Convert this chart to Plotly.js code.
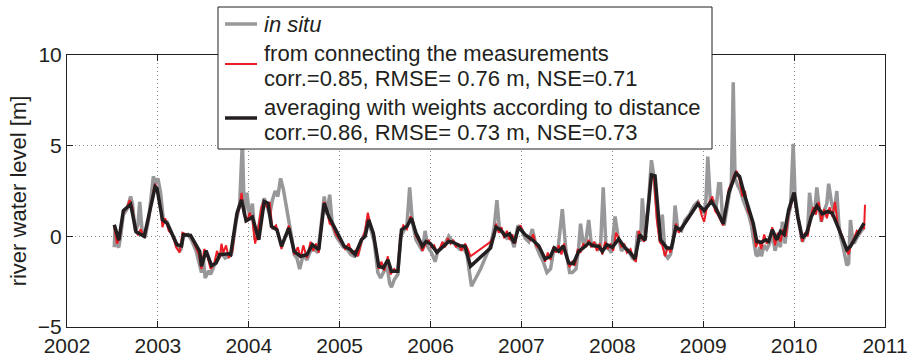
<!DOCTYPE html>
<html>
<head>
<meta charset="utf-8">
<script src="https://cdn.plot.ly/plotly-3.0.1.min.js"></script>
<style>
  html, body { margin: 0; padding: 0; background: #ffffff; }
  #chart { width: 912px; height: 356px; }
</style>
</head>
<body>
<div id="chart"></div>
<script>
// River water level time series (decimal years, metres)

// in situ gauge record
const inSituYears = [
  2002.52, 2002.53, 2002.55, 2002.57, 2002.59, 2002.62, 2002.66, 2002.70, 2002.72, 2002.75,
  2002.78, 2002.80, 2002.83, 2002.86, 2002.90, 2002.95, 2002.98, 2003.00, 2003.03, 2003.06,
  2003.10, 2003.14, 2003.18, 2003.22, 2003.25, 2003.28, 2003.33, 2003.37, 2003.42, 2003.46,
  2003.48, 2003.50, 2003.52, 2003.56, 2003.58, 2003.62, 2003.66, 2003.70, 2003.74, 2003.78,
  2003.81, 2003.86, 2003.90, 2003.93, 2003.95, 2003.98, 2004.01, 2004.04, 2004.07, 2004.10,
  2004.14, 2004.17, 2004.20, 2004.23, 2004.26, 2004.29, 2004.32, 2004.35, 2004.38, 2004.41,
  2004.44, 2004.47, 2004.50, 2004.53, 2004.56, 2004.60, 2004.64, 2004.68, 2004.72, 2004.76,
  2004.80, 2004.83, 2004.86, 2004.89, 2004.92, 2004.96, 2005.00, 2005.04, 2005.08, 2005.12,
  2005.16, 2005.20, 2005.24, 2005.28, 2005.31, 2005.34, 2005.38, 2005.42, 2005.45, 2005.48,
  2005.52, 2005.55, 2005.57, 2005.60, 2005.64, 2005.67, 2005.71, 2005.74, 2005.77, 2005.80,
  2005.84, 2005.88, 2005.91, 2005.94, 2005.97, 2006.01, 2006.05, 2006.08, 2006.12, 2006.16,
  2006.20, 2006.24, 2006.28, 2006.32, 2006.36, 2006.40, 2006.45, 2006.55, 2006.66, 2006.70,
  2006.73, 2006.76, 2006.80, 2006.84, 2006.88, 2006.92, 2006.96, 2007.00, 2007.04, 2007.08,
  2007.12, 2007.16, 2007.20, 2007.24, 2007.28, 2007.32, 2007.36, 2007.40, 2007.45, 2007.49,
  2007.53, 2007.56, 2007.60, 2007.63, 2007.65, 2007.68, 2007.71, 2007.74, 2007.77, 2007.81,
  2007.85, 2007.87, 2007.90, 2007.93, 2007.96, 2007.99, 2008.03, 2008.06, 2008.10, 2008.14,
  2008.18, 2008.22, 2008.25, 2008.28, 2008.31, 2008.33, 2008.36, 2008.40, 2008.43, 2008.46,
  2008.50, 2008.53, 2008.55, 2008.58, 2008.61, 2008.64, 2008.67, 2008.69, 2008.72, 2008.76,
  2008.80, 2008.85, 2008.90, 2008.94, 2008.98, 2009.01, 2009.03, 2009.05, 2009.08, 2009.11,
  2009.14, 2009.17, 2009.19, 2009.21, 2009.23, 2009.26, 2009.29, 2009.31, 2009.33, 2009.35,
  2009.38, 2009.41, 2009.44, 2009.47, 2009.50, 2009.53, 2009.56, 2009.58, 2009.60, 2009.62,
  2009.64, 2009.67, 2009.70, 2009.73, 2009.76, 2009.79, 2009.82, 2009.85, 2009.87, 2009.90,
  2009.94, 2009.96, 2009.99, 2010.01, 2010.04, 2010.07, 2010.09, 2010.12, 2010.15, 2010.17,
  2010.20, 2010.23, 2010.25, 2010.28, 2010.30, 2010.33, 2010.36, 2010.38, 2010.41, 2010.44,
  2010.47, 2010.49, 2010.51, 2010.54, 2010.56, 2010.58, 2010.60, 2010.62, 2010.64, 2010.66,
  2010.70, 2010.74, 2010.77
];
const inSituLevels = [
  -0.60, 0.50, -0.50, -0.60, 0.00, 1.20, 1.50, 2.20, 1.80, 0.30,
  0.60, 1.90, 0.10, -0.05, 1.00, 3.30, 2.90, 3.20, 2.40, 0.90,
  0.80, 0.30, -0.10, -0.60, -0.80, 0.00, 0.10, -0.20, -0.80, -1.50,
  -2.00, -1.20, -2.30, -1.90, -2.10, -1.60, -1.30, -0.90, -1.20, -1.10,
  -1.00, 0.80, 1.80, 5.30, 1.20, 2.40, 1.00, 1.80, -0.20, 0.20,
  1.50, 2.10, 1.70, 1.20, 2.00, 2.50, 2.20, 3.20, 2.60, 1.80,
  1.00, 0.00, -1.00, -1.20, -1.80, -1.00, -1.30, -0.80, -0.70, -0.90,
  0.80, 2.20, 1.20, 2.30, 0.60, 0.00, -0.30, -0.60, -0.70, -1.00,
  -1.10, -1.00, -0.20, 0.20, 1.00, 0.40, -0.30, -2.00, -2.30, -2.00,
  -1.60, -2.60, -2.80, -2.40, -2.10, 0.00, 0.40, 0.60, 2.70, 0.80,
  -0.20, -0.50, -0.80, 0.30, -0.60, -0.90, -1.40, -0.80, -0.60, -0.40,
  0.00, -0.30, -0.50, -0.70, -0.60, -1.00, -2.75, -1.80, -0.50, 0.50,
  2.00, 0.30, 0.20, -0.10, 0.00, -0.60, 0.60, 0.40, -0.10, -0.30,
  0.40, -0.50, -1.00, -1.40, -2.00, -1.80, -0.60, -0.80, 1.50, -0.80,
  -2.00, -2.00, -1.80, -0.60, 0.70, -0.40, -0.20, 0.90, -0.50, -0.40,
  -0.70, -0.60, 2.70, -0.60, -0.70, -0.90, 1.10, 0.10, -0.80, -0.60,
  -0.80, -1.20, -1.30, 0.30, -0.30, 2.10, 0.00, 2.00, 4.20, 3.20,
  0.80, -0.20, 1.20, -1.00, -1.20, -1.00, -0.20, 1.70, 0.40, 0.30,
  0.90, 1.20, 1.70, 1.90, 1.40, 1.30, 2.00, 4.40, 1.80, 2.00,
  1.50, 2.90, 2.90, 1.20, 0.60, 1.60, 2.40, 3.00, 8.50, 3.20,
  2.80, 2.50, 2.00, 1.60, 1.20, 0.60, -0.40, -1.00, -1.10, -0.60,
  -1.10, -0.50, -0.70, -0.40, 0.20, -0.80, -0.20, -0.60, 0.80, -0.40,
  1.20, 1.60, 5.10, 2.30, 1.10, 0.30, -0.30, 0.00, 0.40, 2.40,
  1.20, 1.60, 2.70, 1.40, 0.80, 1.40, 1.80, 2.90, 1.90, 1.30,
  2.50, 0.80, 0.00, -0.60, -1.20, -1.60, -1.50, 0.90, 0.00, -0.40,
  0.00, 0.30, 0.50
];

// levels from connecting the measurements
const connectYears = [
  2002.52, 2002.55, 2002.58, 2002.62, 2002.66, 2002.69, 2002.72, 2002.75, 2002.78, 2002.81,
  2002.85, 2002.90, 2002.95, 2002.97, 2003.00, 2003.03, 2003.05, 2003.08, 2003.12, 2003.16,
  2003.20, 2003.24, 2003.27, 2003.32, 2003.36, 2003.40, 2003.45, 2003.48, 2003.51, 2003.54,
  2003.58, 2003.62, 2003.65, 2003.68, 2003.70, 2003.72, 2003.75, 2003.78, 2003.82, 2003.86,
  2003.90, 2003.92, 2003.95, 2003.98, 2004.01, 2004.04, 2004.07, 2004.10, 2004.14, 2004.17,
  2004.20, 2004.23, 2004.26, 2004.30, 2004.33, 2004.36, 2004.40, 2004.44, 2004.47, 2004.50,
  2004.54, 2004.57, 2004.60, 2004.64, 2004.68, 2004.71, 2004.74, 2004.77, 2004.80, 2004.83,
  2004.86, 2004.89, 2004.92, 2004.96, 2005.00, 2005.03, 2005.06, 2005.10, 2005.13, 2005.17,
  2005.20, 2005.24, 2005.28, 2005.31, 2005.34, 2005.37, 2005.40, 2005.43, 2005.46, 2005.49,
  2005.53, 2005.56, 2005.60, 2005.64, 2005.67, 2005.70, 2005.74, 2005.78, 2005.81, 2005.84,
  2005.88, 2005.91, 2005.95, 2005.98, 2006.01, 2006.04, 2006.07, 2006.10, 2006.13, 2006.16,
  2006.19, 2006.22, 2006.25, 2006.28, 2006.31, 2006.34, 2006.38, 2006.41, 2006.44, 2006.66,
  2006.70, 2006.72, 2006.75, 2006.78, 2006.81, 2006.84, 2006.87, 2006.90, 2006.93, 2006.96,
  2006.99, 2007.02, 2007.06, 2007.10, 2007.13, 2007.16, 2007.20, 2007.23, 2007.26, 2007.29,
  2007.32, 2007.35, 2007.38, 2007.41, 2007.44, 2007.47, 2007.50, 2007.53, 2007.56, 2007.59,
  2007.62, 2007.65, 2007.68, 2007.71, 2007.74, 2007.77, 2007.80, 2007.83, 2007.86, 2007.89,
  2007.92, 2007.95, 2007.98, 2008.01, 2008.04, 2008.07, 2008.10, 2008.13, 2008.16, 2008.20,
  2008.23, 2008.26, 2008.29, 2008.32, 2008.35, 2008.39, 2008.43, 2008.46, 2008.49, 2008.52,
  2008.55, 2008.58, 2008.61, 2008.64, 2008.67, 2008.70, 2008.73, 2008.76, 2008.80, 2008.84,
  2008.88, 2008.92, 2008.95, 2008.98, 2009.01, 2009.04, 2009.07, 2009.10, 2009.13, 2009.16,
  2009.19, 2009.22, 2009.25, 2009.28, 2009.31, 2009.34, 2009.37, 2009.40, 2009.43, 2009.46,
  2009.49, 2009.52, 2009.55, 2009.58, 2009.61, 2009.64, 2009.67, 2009.70, 2009.73, 2009.76,
  2009.79, 2009.82, 2009.85, 2009.88, 2009.91, 2009.94, 2009.97, 2010.00, 2010.03, 2010.06,
  2010.09, 2010.12, 2010.15, 2010.18, 2010.21, 2010.24, 2010.27, 2010.30, 2010.33, 2010.36,
  2010.39, 2010.42, 2010.45, 2010.48, 2010.51, 2010.54, 2010.57, 2010.60, 2010.63, 2010.66,
  2010.69, 2010.72, 2010.75, 2010.77, 2010.78
];
const connectLevels = [
  0.50, -0.40, -0.10, 1.30, 1.60, 2.00, 1.60, 0.30, 0.10, 0.40,
  -0.05, 1.00, 2.50, 2.90, 2.40, 1.60, 0.50, 1.00, 0.30, 0.10,
  -0.60, -0.90, 0.20, 0.10, 0.00, -0.40, -1.00, -1.80, -0.70, -1.00,
  -1.80, -1.50, -0.80, -1.20, -0.40, -0.90, -0.50, -1.20, -0.80, 1.00,
  1.60, 2.40, 1.20, 0.80, 1.30, 0.90, -0.40, 0.30, 1.60, 2.00,
  1.60, 1.90, 0.40, 0.60, 0.10, -0.70, 0.00, 0.60, -0.20, -1.00,
  -0.60, -1.20, -0.50, -1.20, -0.30, -0.80, -0.40, -0.90, 0.80, 1.90,
  1.40, 0.70, 0.60, 0.10, -0.20, -0.40, -0.70, -0.40, -0.90, -0.80,
  -1.10, -0.30, 0.30, 1.30, 0.60, 0.10, -0.60, -1.80, -1.40, -1.90,
  -1.10, -2.10, -1.80, -2.00, 0.10, 0.60, 0.40, 1.10, 0.80, 0.00,
  -0.30, -0.80, -0.40, -0.20, -0.60, -0.50, -0.90, -0.70, -0.30, -0.60,
  -0.10, -0.40, -0.20, -0.60, -0.40, -0.80, -0.40, -0.70, -1.10, -0.30,
  0.10, 0.70, 0.20, 0.50, -0.10, 0.30, -0.20, 0.10, -0.40, 0.40,
  0.60, 0.20, 0.00, -0.20, 0.10, -0.50, -0.70, -0.90, -1.40, -0.90,
  -1.30, -0.60, -0.90, -0.50, -1.00, -0.40, -1.20, -1.70, -1.40, -1.60,
  -0.70, -0.90, -0.40, -0.60, -0.20, -0.60, -0.30, -0.80, -0.40, -1.00,
  -0.30, -0.70, -0.40, -0.80, 0.20, -0.10, -0.60, -0.40, -0.90, -0.70,
  -1.20, -1.40, 0.30, -0.10, -0.30, 1.50, 3.30, 3.10, 0.90, -0.30,
  -0.50, -1.10, -0.60, -0.90, 0.00, 0.70, 0.20, 0.50, 0.70, 1.00,
  1.40, 1.70, 1.90, 1.20, 0.80, 1.60, 1.90, 2.20, 1.40, 1.20,
  0.90, 0.60, 1.50, 2.60, 2.90, 3.40, 3.60, 3.10, 2.20, 2.50,
  1.40, 1.10, 0.50, -0.60, -0.20, -0.70, 0.10, -0.40, -0.10, 0.50,
  -0.50, 0.20, -0.30, 0.40, 0.00, 1.30, 1.80, 2.20, 1.30, 0.50,
  -0.30, 0.20, 0.00, 1.00, 1.60, 1.20, 1.90, 0.80, 1.50, 1.00,
  1.60, 1.10, 1.90, 0.60, 0.20, -0.10, -0.70, -1.00, -0.40, -0.10,
  0.30, 0.20, 0.60, 0.40, 1.74
];

// levels from distance-weighted averaging
const averagedYears = [
  2002.52, 2002.57, 2002.62, 2002.70, 2002.76, 2002.85, 2002.97, 2002.99, 2003.05, 2003.10,
  2003.21, 2003.26, 2003.28, 2003.36, 2003.46, 2003.48, 2003.53, 2003.59, 2003.64, 2003.68,
  2003.78, 2003.80, 2003.87, 2003.92, 2003.97, 2004.04, 2004.11, 2004.17, 2004.21, 2004.25,
  2004.31, 2004.36, 2004.44, 2004.50, 2004.57, 2004.64, 2004.70, 2004.77, 2004.83, 2004.88,
  2004.91, 2004.99, 2005.05, 2005.12, 2005.17, 2005.24, 2005.28, 2005.32, 2005.37, 2005.43,
  2005.48, 2005.53, 2005.57, 2005.64, 2005.68, 2005.74, 2005.79, 2005.84, 2005.91, 2005.95,
  2006.00, 2006.07, 2006.14, 2006.20, 2006.25, 2006.32, 2006.38, 2006.44, 2006.66, 2006.72,
  2006.77, 2006.82, 2006.87, 2006.92, 2006.97, 2007.04, 2007.12, 2007.19, 2007.26, 2007.32,
  2007.36, 2007.41, 2007.46, 2007.52, 2007.57, 2007.63, 2007.68, 2007.74, 2007.79, 2007.85,
  2007.89, 2007.94, 2008.00, 2008.07, 2008.14, 2008.20, 2008.25, 2008.30, 2008.36, 2008.43,
  2008.47, 2008.53, 2008.60, 2008.65, 2008.70, 2008.75, 2008.94, 2009.01, 2009.09, 2009.14,
  2009.22, 2009.28, 2009.36, 2009.40, 2009.46, 2009.50, 2009.55, 2009.59, 2009.64, 2009.69,
  2009.72, 2009.76, 2009.81, 2009.85, 2009.89, 2009.94, 2010.00, 2010.04, 2010.09, 2010.14,
  2010.19, 2010.25, 2010.31, 2010.37, 2010.42, 2010.48, 2010.53, 2010.58, 2010.62, 2010.68,
  2010.77
];
const averagedLevels = [
  0.64, -0.22, 1.42, 1.77, 0.25, 0.00, 2.74, 2.65, 0.91, 0.73,
  -0.46, -0.52, 0.09, 0.05, -0.83, -1.65, -0.79, -1.62, -1.47, -1.01,
  -0.96, -1.01, 1.28, 2.01, 0.86, 1.06, -0.19, 1.92, 1.83, 0.55,
  0.36, -0.55, 0.46, -0.83, -1.10, -1.01, -0.46, -0.74, 1.83, 1.09,
  0.82, 0.00, -0.55, -0.74, -1.01, -0.19, 0.00, 0.91, 0.18, -1.65,
  -1.74, -1.29, -1.93, -1.93, 0.36, 0.55, 1.00, 0.18, -0.55, -0.28,
  -0.41, -0.88, -0.52, -0.28, -0.33, -0.52, -0.55, -1.65, -0.64, 0.51,
  0.36, 0.03, 0.14, -0.37, 0.51, 0.09, -0.19, -0.52, -1.25, -1.10,
  -0.64, -0.83, -0.52, -1.47, -1.51, -0.83, -0.64, -0.37, -0.52, -0.55,
  -0.83, -0.46, -0.61, -0.15, -0.64, -0.92, -1.25, 0.09, -0.22, 3.38,
  3.33, -0.19, -0.64, -0.64, 0.50, 0.36, 1.79, 1.42, 1.92, 1.55,
  0.69, 2.38, 3.48, 3.30, 2.19, 1.46, 0.73, -0.28, -0.33, -0.19,
  -0.28, 0.36, -0.19, 0.27, 0.10, 1.46, 2.41, 1.09, -0.09, 0.18,
  1.09, 1.68, 1.24, 1.37, 1.28, 0.55, -0.09, -0.74, -0.55, 0.00,
  0.73
];

const yearTicks = [2002, 2003, 2004, 2005, 2006, 2007, 2008, 2009, 2010, 2011];
const levelTicks = [-5, 0, 5, 10];

// legend text, one array per entry (each line of an entry is one element)
const seriesLabels = [
  ['<i>in situ</i>'],
  ['from connecting the measurements', 'corr.=0.85, RMSE= 0.76 m, NSE=0.71'],
  ['averaging with weights according to distance', 'corr.=0.86, RMSE= 0.73 m, NSE=0.73']
];
const seriesColors = ['#98989b', '#ed1c24', '#231f20'];
const seriesWidths = [3.5, 2, 3.5];

const FONT = 'Liberation Sans, Arial, Helvetica, sans-serif';
const INK = '#231f20';

const traces = [
  { x: inSituYears, y: inSituLevels, type: 'scatter', mode: 'lines',
    line: { color: seriesColors[0], width: seriesWidths[0] } },
  { x: connectYears, y: connectLevels, type: 'scatter', mode: 'lines',
    line: { color: seriesColors[1], width: seriesWidths[1] } },
  { x: averagedYears, y: averagedLevels, type: 'scatter', mode: 'lines',
    line: { color: seriesColors[2], width: seriesWidths[2] } }
];

// Plot area geometry in pixels, used to place the boxed key in paper units
const W = 912, H = 356;
const M = { l: 67, r: 27, t: 55, b: 29 };
const PW = W - M.l - M.r, PH = H - M.t - M.b;
const px = v => (v - M.l) / PW;
const py = v => (H - M.b - v) / PH;

// key layout (pixel positions)
const keyBox = { x0: 218, y0: 7, x1: 712, y1: 149 };
const keySwatchX = [225, 257];
const keySwatchY = [24, 64, 118];
const keyTextX = 262;
const keyTextY = [[25], [53, 78], [107, 132]];

const shapes = [
  { type: 'rect', xref: 'paper', yref: 'paper',
    x0: px(keyBox.x0), x1: px(keyBox.x1), y0: py(keyBox.y0), y1: py(keyBox.y1),
    fillcolor: '#ffffff', line: { color: INK, width: 1 } }
];
const annotations = [];
seriesLabels.forEach((lines, i) => {
  shapes.push({ type: 'line', xref: 'paper', yref: 'paper',
    x0: px(keySwatchX[0]), x1: px(keySwatchX[1]), y0: py(keySwatchY[i]), y1: py(keySwatchY[i]),
    line: { color: seriesColors[i], width: seriesWidths[i] } });
  lines.forEach((t, j) => {
    annotations.push({ xref: 'paper', yref: 'paper', x: px(keyTextX), y: py(keyTextY[i][j]),
      xanchor: 'left', yanchor: 'middle', showarrow: false, text: t,
      font: { family: FONT, size: 22, color: INK } });
  });
});

const axisCommon = {
  showline: true, linecolor: INK, linewidth: 1, mirror: 'ticks',
  ticks: 'inside', ticklen: 6, tickcolor: INK, tickwidth: 1,
  showgrid: true, gridcolor: '#8a8a8a', gridwidth: 1, griddash: '1px,3px',
  zeroline: false,
  tickfont: { family: FONT, size: 21, color: INK }
};

const layout = {
  width: W, height: H,
  margin: { l: M.l, r: M.r, t: M.t, b: M.b, pad: 0 },
  paper_bgcolor: '#ffffff', plot_bgcolor: '#ffffff',
  font: { family: FONT, color: INK },
  showlegend: false,
  shapes: shapes,
  annotations: annotations,
  xaxis: Object.assign({}, axisCommon, {
    range: [2002, 2011], tickmode: 'array', tickvals: yearTicks,
    ticktext: yearTicks.map(String)
  }),
  yaxis: Object.assign({}, axisCommon, {
    range: [-5, 10], tickmode: 'array', tickvals: levelTicks,
    ticktext: levelTicks.map(v => (v < 0 ? '\u2212' + Math.abs(v) : String(v))),
    title: { text: 'river water level [m]', font: { family: FONT, size: 22, color: INK }, standoff: 5 }
  }
  )
};

Plotly.newPlot('chart', traces, layout, { staticPlot: true, displayModeBar: false });
</script>
</body>
</html>
